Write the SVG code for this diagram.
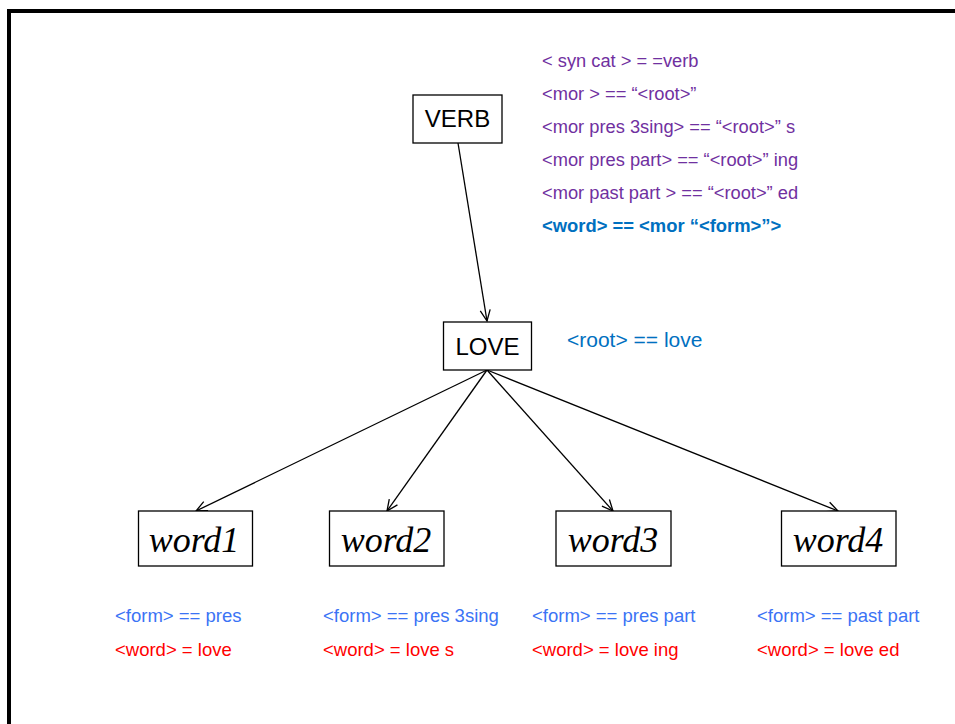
<svg xmlns="http://www.w3.org/2000/svg" width="955" height="724" viewBox="0 0 955 724">
<defs>
<style>
.box{fill:#fff;stroke:#000;stroke-width:1.3}
.cap{font-family:"Liberation Sans",Arial,sans-serif;font-size:24px;fill:#000;text-anchor:middle}
.wd{font-family:"Liberation Serif","Times New Roman",serif;font-style:italic;font-size:36px;fill:#000;text-anchor:middle}
.pu{font-family:"Liberation Sans",Arial,sans-serif;font-size:18.3px;fill:#7030A0}
.bl{font-family:"Liberation Sans",Arial,sans-serif;font-size:18.4px;fill:#0070C0;font-weight:bold}
.rt{font-family:"Liberation Sans",Arial,sans-serif;font-size:21px;fill:#0070C0}
.fm{font-family:"Liberation Sans",Arial,sans-serif;font-size:18.5px;fill:#3B73F5}
.rd{font-family:"Liberation Sans",Arial,sans-serif;font-size:18.5px;fill:#FF0000}
.ln{stroke:#000;stroke-width:1.3;fill:none;marker-end:url(#ah)}
</style>
<marker id="ah" markerUnits="userSpaceOnUse" markerWidth="14" markerHeight="14" refX="12" refY="6" orient="auto" viewBox="0 0 14 12">
<path d="M1,1 L12,6 L1,11" fill="none" stroke="#000" stroke-width="1.3"/>
</marker>
</defs>
<rect width="955" height="724" fill="#fff"/>
<path d="M9,724 V11 H955" fill="none" stroke="#000" stroke-width="4"/>
<g id="connectors">
<line class="ln" x1="458" y1="143" x2="487" y2="321"/>
<line class="ln" x1="487" y1="370" x2="196" y2="511"/>
<line class="ln" x1="487" y1="370" x2="387" y2="511"/>
<line class="ln" x1="487" y1="370" x2="613" y2="511"/>
<line class="ln" x1="487" y1="370" x2="838" y2="511"/>
</g>
<g id="verb"><rect class="box" x="413" y="95" width="89" height="48"/><text class="cap" x="457.5" y="127">VERB</text></g>
<g id="love"><rect class="box" x="443.5" y="322" width="88" height="48"/><text class="cap" x="487.5" y="355">LOVE</text></g>
<g id="word1"><rect class="box" x="138.5" y="511" width="114" height="55"/><text class="wd" x="194" y="552">word1</text></g>
<g id="word2"><rect class="box" x="329.5" y="511" width="114.5" height="55"/><text class="wd" x="386" y="552">word2</text></g>
<g id="word3"><rect class="box" x="556" y="511" width="115" height="55"/><text class="wd" x="613" y="552">word3</text></g>
<g id="word4"><rect class="box" x="781.5" y="511" width="114.5" height="55"/><text class="wd" x="838" y="552">word4</text></g>
<g id="verb-rules">
<text class="pu" x="542" y="67">&lt; syn cat &gt; = =verb</text>
<text class="pu" x="542" y="100">&lt;mor &gt; == “&lt;root&gt;”</text>
<text class="pu" x="542" y="133">&lt;mor pres 3sing&gt; == “&lt;root&gt;” s</text>
<text class="pu" x="542" y="166">&lt;mor pres part&gt; == “&lt;root&gt;” ing</text>
<text class="pu" x="542" y="199">&lt;mor past part &gt; == “&lt;root&gt;” ed</text>
<text class="bl" x="542" y="232">&lt;word&gt; == &lt;mor “&lt;form&gt;”&gt;</text>
</g>
<g id="love-rule"><text class="rt" x="567" y="347">&lt;root&gt; == love</text></g>
<g id="word1-rules"><text class="fm" x="115" y="622">&lt;form&gt; == pres</text><text class="rd" x="115" y="656">&lt;word&gt; = love</text></g>
<g id="word2-rules"><text class="fm" x="323" y="622">&lt;form&gt; == pres 3sing</text><text class="rd" x="323" y="656">&lt;word&gt; = love s</text></g>
<g id="word3-rules"><text class="fm" x="532" y="622">&lt;form&gt; == pres part</text><text class="rd" x="532" y="656">&lt;word&gt; = love ing</text></g>
<g id="word4-rules"><text class="fm" x="757" y="622">&lt;form&gt; == past part</text><text class="rd" x="757" y="656">&lt;word&gt; = love ed</text></g>
</svg>
